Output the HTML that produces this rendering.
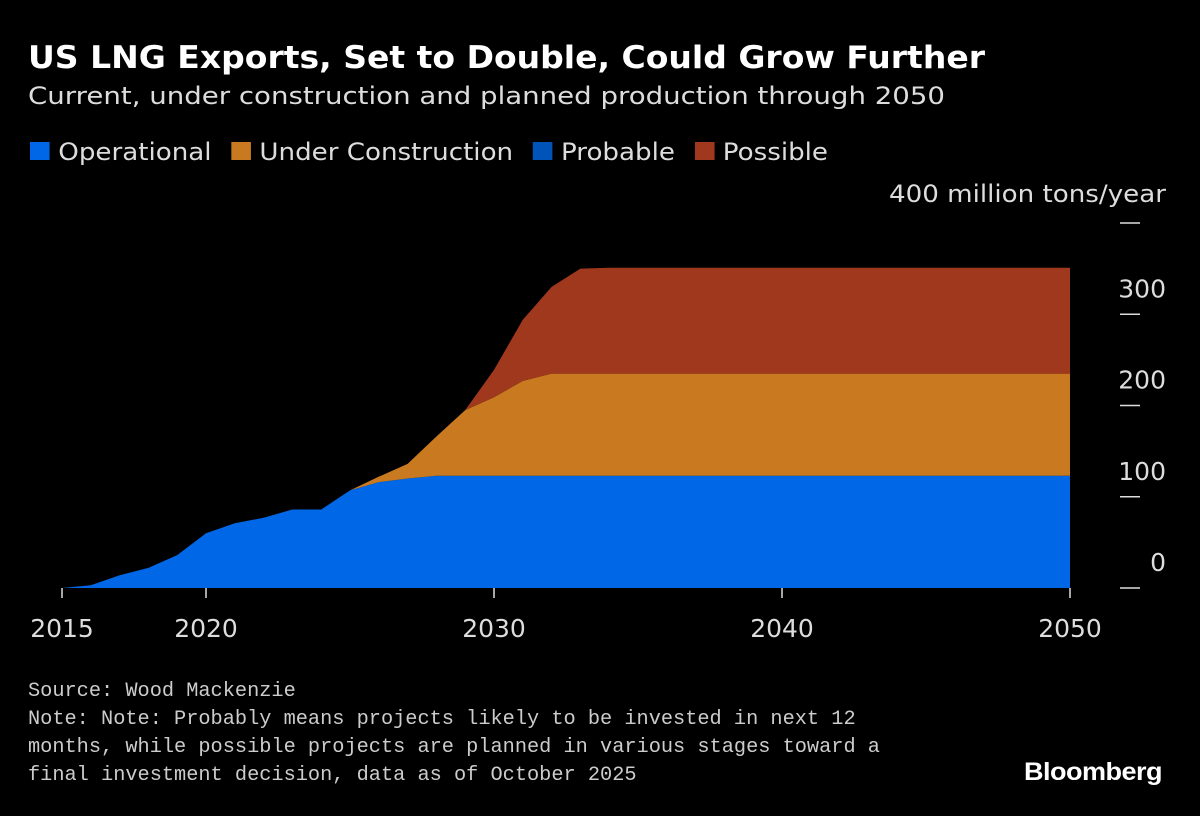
<!DOCTYPE html>
<html><head><meta charset="utf-8"><style>
body{margin:0;background:#000;width:1200px;height:816px;overflow:hidden;font-family:"DejaVu Sans","Liberation Sans",sans-serif;color:#ddd}
.abs{position:absolute;white-space:nowrap;transform-origin:0 0}
</style></head><body>
<div class="abs fit" data-w="957" style="left:28px;top:40px;font-size:31px;font-weight:bold;color:#fff">US LNG Exports, Set to Double, Could Grow Further</div>
<div class="abs fit" data-w="917" style="left:28px;top:82px;font-size:24px;color:#ddd">Current, under construction and planned production through 2050</div>
<div class="abs fit" data-w="798" style="left:30px;top:138px;font-size:24px;color:#ddd">
<span style="margin-right:18px"><span style="display:inline-block;width:18px;height:18px;background:#0068e6;margin-right:8px"></span>Operational</span><span style="margin-right:18px"><span style="display:inline-block;width:18px;height:18px;background:#c97a20;margin-right:8px"></span>Under Construction</span><span style="margin-right:18px"><span style="display:inline-block;width:18px;height:18px;background:#0053b8;margin-right:8px"></span>Probable</span><span><span style="display:inline-block;width:18px;height:18px;background:#a0381e;margin-right:8px"></span>Possible</span>
</div>
<div class="abs fit" data-w="277" style="left:889px;top:180px;font-size:24px;color:#ddd">400 million tons/year</div>
<svg class="abs" style="left:0;top:0" width="1200" height="816" id="chart"></svg>
<div class="abs" style="left:28px;top:678px;font-family:'Liberation Mono','DejaVu Sans Mono',monospace;font-size:20.3px;line-height:28px;color:#ccc">Source: Wood Mackenzie<br>Note: Note: Probably means projects likely to be invested in next 12<br>months, while possible projects are planned in various stages toward a<br>final investment decision, data as of October 2025</div>
<div class="abs fit" data-w="138" style="left:1024px;top:758px;font-family:'Liberation Sans',sans-serif;font-size:25px;font-weight:bold;color:#fff;letter-spacing:-0.5px">Bloomberg</div>
<script>
const years=[2015,2016,2017,2018,2019,2020,2021,2022,2023,2024,2025,2026,2027,2028,2029,2030,2031,2032,2033,2034,2035,2040,2045,2050];
const operational=[0,3,14,22,36,60,71,77,86,86,107,116,120,123,123,123,123,123,123,123,123,123,123,123];
const underConstruction=[0,0,0,0,0,0,0,0,0,0,0,6,16,43,72,86,104,112,112,112,112,112,112,112];
const probable=[0,0,0,0,0,0,0,0,0,0,0,0,0,0,0,0,0,0,0,0,0,0,0,0];
const possible=[0,0,0,0,0,0,0,0,0,0,0,0,0,0,0,30,67,95,115,116,116,116,116,116];
const yTicks=[0,100,200,300,400];
const xTicks=[2015,2020,2030,2040,2050];
const NS="http://www.w3.org/2000/svg";
const svg=document.getElementById('chart');
const x=v=>62+(v-2015)*(1070-62)/35;
const y=v=>588-v*(588-223)/400;
function area(lo,hi,color,name){
  let d='M'+years.map((yr,i)=>x(yr)+','+y(hi[i])).join('L');
  for(let i=years.length-1;i>=0;i--)d+='L'+x(years[i])+','+y(lo[i]);
  const p=document.createElementNS(NS,'path');
  p.setAttribute('d',d+'Z');p.setAttribute('fill',color);
  
  
  svg.appendChild(p);
}
const s0=years.map(()=>0);
const s1=operational.slice();
const s2=s1.map((v,i)=>v+underConstruction[i]);
const s3=s2.map((v,i)=>v+probable[i]);
const s4=s3.map((v,i)=>v+possible[i]);
area(s0,s1,'#0068e6','operational-area');
area(s1,s2,'#c97a20','under-construction-area');
area(s2,s3,'#0053b8','probable-area');
area(s3,s4,'#a0381e','possible-area');
yTicks.forEach(t=>{
  const l=document.createElementNS(NS,'line');
  l.setAttribute('x1',1120);l.setAttribute('x2',1140);l.setAttribute('y1',y(t));l.setAttribute('y2',y(t));
  l.setAttribute('stroke','#ddd');l.setAttribute('stroke-width','1.5');
  
  
  svg.appendChild(l);
  if(t===400)return;
  const tx=document.createElementNS(NS,'text');
  tx.setAttribute('x',1166);tx.setAttribute('y',y(t)-17);tx.setAttribute('text-anchor','end');
  tx.setAttribute('fill','#ddd');tx.setAttribute('font-size','25');
  tx.textContent=String(t);
  
  
  svg.appendChild(tx);
});
xTicks.forEach(t=>{
  const l=document.createElementNS(NS,'line');
  l.setAttribute('x1',x(t));l.setAttribute('x2',x(t));l.setAttribute('y1',588);l.setAttribute('y2',598);
  l.setAttribute('stroke','#ddd');l.setAttribute('stroke-width','1.5');
  
  
  svg.appendChild(l);
  const tx=document.createElementNS(NS,'text');
  tx.setAttribute('x',x(t));tx.setAttribute('y',637);tx.setAttribute('text-anchor','middle');
  tx.setAttribute('fill','#ddd');tx.setAttribute('font-size','25');
  tx.textContent=String(t);
  
  
  svg.appendChild(tx);
});
document.querySelectorAll('.fit').forEach(el=>{
  const w=el.getBoundingClientRect().width;
  const target=+el.getAttribute('data-w');
  if(w>0)el.style.transform='scaleX('+(target/w)+')';
});
</script>
</body></html>
